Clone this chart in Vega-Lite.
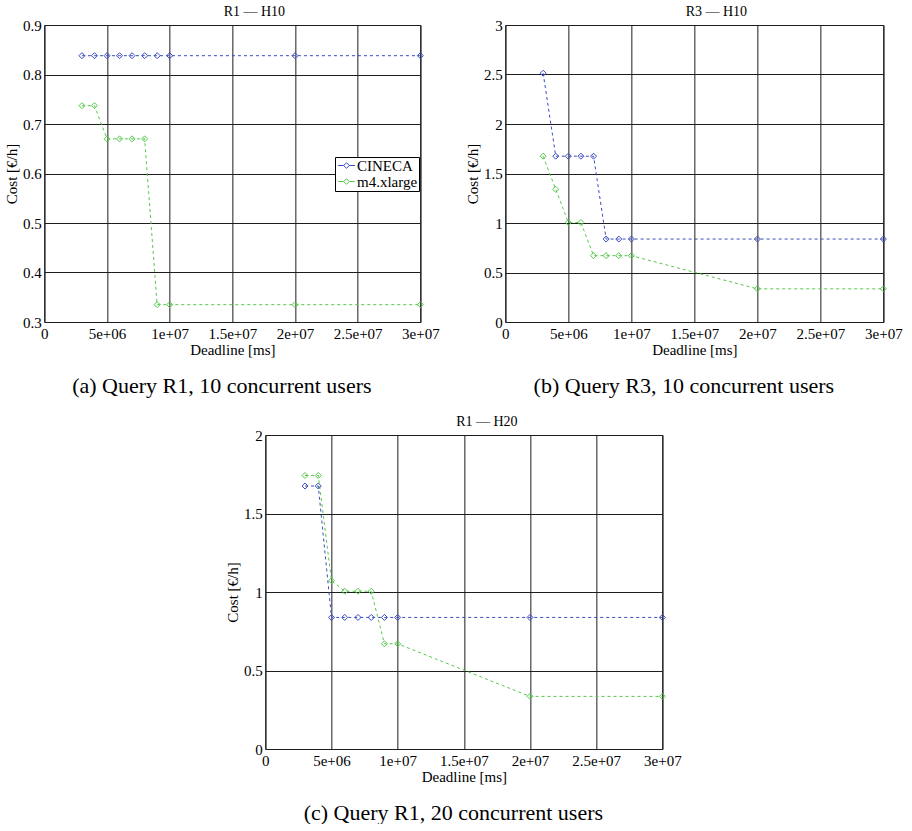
{
  "$schema": "https://vega.github.io/schema/vega-lite/v6.json",
  "padding": {"left": 4, "top": 4, "right": 0, "bottom": 0},
  "background": "white",
  "datasets": {
    "a": [
      {"series": "CINECA", "deadline": 3000000, "cost": 0.838},
      {"series": "CINECA", "deadline": 4000000, "cost": 0.838},
      {"series": "CINECA", "deadline": 5000000, "cost": 0.838},
      {"series": "CINECA", "deadline": 6000000, "cost": 0.838},
      {"series": "CINECA", "deadline": 7000000, "cost": 0.838},
      {"series": "CINECA", "deadline": 8000000, "cost": 0.838},
      {"series": "CINECA", "deadline": 9000000, "cost": 0.838},
      {"series": "CINECA", "deadline": 10000000, "cost": 0.838},
      {"series": "CINECA", "deadline": 20000000, "cost": 0.838},
      {"series": "CINECA", "deadline": 30000000, "cost": 0.838},
      {"series": "m4.xlarge", "deadline": 3000000, "cost": 0.737},
      {"series": "m4.xlarge", "deadline": 4000000, "cost": 0.737},
      {"series": "m4.xlarge", "deadline": 5000000, "cost": 0.67},
      {"series": "m4.xlarge", "deadline": 6000000, "cost": 0.67},
      {"series": "m4.xlarge", "deadline": 7000000, "cost": 0.67},
      {"series": "m4.xlarge", "deadline": 8000000, "cost": 0.67},
      {"series": "m4.xlarge", "deadline": 9000000, "cost": 0.335},
      {"series": "m4.xlarge", "deadline": 10000000, "cost": 0.335},
      {"series": "m4.xlarge", "deadline": 20000000, "cost": 0.335},
      {"series": "m4.xlarge", "deadline": 30000000, "cost": 0.335}
    ],
    "b": [
      {"series": "CINECA", "deadline": 3000000, "cost": 2.513},
      {"series": "CINECA", "deadline": 4000000, "cost": 1.675},
      {"series": "CINECA", "deadline": 5000000, "cost": 1.675},
      {"series": "CINECA", "deadline": 6000000, "cost": 1.675},
      {"series": "CINECA", "deadline": 7000000, "cost": 1.675},
      {"series": "CINECA", "deadline": 8000000, "cost": 0.838},
      {"series": "CINECA", "deadline": 9000000, "cost": 0.838},
      {"series": "CINECA", "deadline": 10000000, "cost": 0.838},
      {"series": "CINECA", "deadline": 20000000, "cost": 0.838},
      {"series": "CINECA", "deadline": 30000000, "cost": 0.838},
      {"series": "m4.xlarge", "deadline": 3000000, "cost": 1.675},
      {"series": "m4.xlarge", "deadline": 4000000, "cost": 1.34},
      {"series": "m4.xlarge", "deadline": 5000000, "cost": 1.005},
      {"series": "m4.xlarge", "deadline": 6000000, "cost": 1.005},
      {"series": "m4.xlarge", "deadline": 7000000, "cost": 0.67},
      {"series": "m4.xlarge", "deadline": 8000000, "cost": 0.67},
      {"series": "m4.xlarge", "deadline": 9000000, "cost": 0.67},
      {"series": "m4.xlarge", "deadline": 10000000, "cost": 0.67},
      {"series": "m4.xlarge", "deadline": 20000000, "cost": 0.335},
      {"series": "m4.xlarge", "deadline": 30000000, "cost": 0.335}
    ],
    "c": [
      {"series": "CINECA", "deadline": 3000000, "cost": 1.675},
      {"series": "CINECA", "deadline": 4000000, "cost": 1.675},
      {"series": "CINECA", "deadline": 5000000, "cost": 0.838},
      {"series": "CINECA", "deadline": 6000000, "cost": 0.838},
      {"series": "CINECA", "deadline": 7000000, "cost": 0.838},
      {"series": "CINECA", "deadline": 8000000, "cost": 0.838},
      {"series": "CINECA", "deadline": 9000000, "cost": 0.838},
      {"series": "CINECA", "deadline": 10000000, "cost": 0.838},
      {"series": "CINECA", "deadline": 20000000, "cost": 0.838},
      {"series": "CINECA", "deadline": 30000000, "cost": 0.838},
      {"series": "m4.xlarge", "deadline": 3000000, "cost": 1.742},
      {"series": "m4.xlarge", "deadline": 4000000, "cost": 1.742},
      {"series": "m4.xlarge", "deadline": 5000000, "cost": 1.072},
      {"series": "m4.xlarge", "deadline": 6000000, "cost": 1.005},
      {"series": "m4.xlarge", "deadline": 7000000, "cost": 1.005},
      {"series": "m4.xlarge", "deadline": 8000000, "cost": 1.005},
      {"series": "m4.xlarge", "deadline": 9000000, "cost": 0.67},
      {"series": "m4.xlarge", "deadline": 10000000, "cost": 0.67},
      {"series": "m4.xlarge", "deadline": 20000000, "cost": 0.335},
      {"series": "m4.xlarge", "deadline": 30000000, "cost": 0.335}
    ]
  },
  "config": {
    "font": "Liberation Serif",
    "view": {"stroke": "black", "strokeWidth": 1},
    "style": {
      "guide-label": {"font": "Liberation Serif", "fontSize": 15, "fill": "black"},
      "guide-title": {"font": "Liberation Serif", "fontSize": 15, "fontWeight": "normal", "fill": "black"},
      "group-title": {"font": "Liberation Serif", "fontSize": 14, "fontWeight": "normal", "fill": "black"}
    },
    "axis": {
      "labelFont": "Liberation Serif", "labelFontSize": 15, "labelColor": "black",
      "titleFont": "Liberation Serif", "titleFontSize": 15, "titleFontWeight": "normal", "titleColor": "black",
      "grid": true, "gridColor": "#1e1e1e", "gridWidth": 1, "gridOpacity": 1,
      "ticks": false, "domain": false, "labelFlush": false, "labelOverlap": false
    },
    "axisX": {"labelPadding": 4, "titlePadding": 1},
    "axisY": {"labelPadding": 3, "titlePadding": 3},
    "title": {"font": "Liberation Serif", "fontSize": 14, "fontWeight": "normal", "color": "black"},
    "legend": {
      "strokeColor": "black", "fillColor": "white", "padding": 1, "cornerRadius": 0,
      "labelFont": "Liberation Serif", "labelFontSize": 15, "labelColor": "black",
      "symbolType": "M-1.2,0L-0.4,0M0.4,0L1.2,0M0,-0.4L0.4,0L0,0.4L-0.4,0Z",
      "symbolSize": 196, "symbolStrokeWidth": 1, "symbolFillColor": "transparent",
      "rowPadding": 0, "labelOffset": 3, "symbolOffset": 3
    }
  },
  "vconcat": [
    {
      "hconcat": [
        {
          "title": {"text": "(a) Query R1, 10 concurrent users", "orient": "bottom", "fontSize": 22, "offset": 18, "anchor": "middle", "frame": "bounds"},
          "vconcat": [
            {
              "width": 376, "height": 297,
              "title": {"text": "R1 — H10", "dx": 22, "dy": 1, "offset": 0},
              "data": {"name": "a"},
              "encoding": {
                "x": {"field": "deadline", "type": "quantitative", "scale": {"domain": [0, 30000000], "nice": false},
                  "axis": {"values": [0, 5000000, 10000000, 15000000, 20000000, 25000000, 30000000], "title": "Deadline [ms]",
                    "labelFont": "Liberation Serif", "labelFontSize": 15, "titleFont": "Liberation Serif", "titleFontSize": 15,
                    "labelExpr": "datum.value == 0 ? '0' : replace(format(datum.value, '~e'), 'e+', 'e+0')"}},
                "y": {"field": "cost", "type": "quantitative", "scale": {"domain": [0.3, 0.9], "nice": false, "zero": false},
                  "axis": {"values": [0.3, 0.4, 0.5, 0.6, 0.7, 0.8, 0.9], "format": "~g", "title": "Cost [€/h]",
                    "labelFont": "Liberation Serif", "labelFontSize": 15, "titleFont": "Liberation Serif", "titleFontSize": 15}},
                "color": {"field": "series", "type": "nominal",
                  "scale": {"domain": ["CINECA", "m4.xlarge"], "range": ["#3a4bbf", "#55c94a"]},
                  "legend": {"title": null, "orient": "none", "legendX": 291, "legendY": 132, "labelFont": "Liberation Serif", "labelFontSize": 15}}
              },
              "layer": [
                {"mark": {"type": "line", "strokeDash": [3, 3], "strokeWidth": 1}},
                {"mark": {"type": "point", "shape": "diamond", "filled": false, "size": 36, "strokeWidth": 1, "opacity": 1}}
              ]
            }
          ]
        },
        {
          "title": {"text": "(b) Query R3, 10 concurrent users", "orient": "bottom", "fontSize": 22, "offset": 18, "anchor": "middle", "frame": "bounds"},
          "vconcat": [
            {
              "width": 378, "height": 297,
              "title": {"text": "R3 — H10", "dx": 22, "dy": 1, "offset": 0},
              "data": {"name": "b"},
              "encoding": {
                "x": {"field": "deadline", "type": "quantitative", "scale": {"domain": [0, 30000000], "nice": false},
                  "axis": {"values": [0, 5000000, 10000000, 15000000, 20000000, 25000000, 30000000], "title": "Deadline [ms]",
                    "labelFont": "Liberation Serif", "labelFontSize": 15, "titleFont": "Liberation Serif", "titleFontSize": 15,
                    "labelExpr": "datum.value == 0 ? '0' : replace(format(datum.value, '~e'), 'e+', 'e+0')"}},
                "y": {"field": "cost", "type": "quantitative", "scale": {"domain": [0, 3], "nice": false},
                  "axis": {"values": [0, 0.5, 1, 1.5, 2, 2.5, 3], "format": "~g", "title": "Cost [€/h]",
                    "labelFont": "Liberation Serif", "labelFontSize": 15, "titleFont": "Liberation Serif", "titleFontSize": 15}},
                "color": {"field": "series", "type": "nominal",
                  "scale": {"domain": ["CINECA", "m4.xlarge"], "range": ["#3a4bbf", "#55c94a"]},
                  "legend": {"title": null, "orient": "none", "legendX": 292, "legendY": 132, "labelFont": "Liberation Serif", "labelFontSize": 15}}
              },
              "layer": [
                {"mark": {"type": "line", "strokeDash": [3, 3], "strokeWidth": 1}},
                {"mark": {"type": "point", "shape": "diamond", "filled": false, "size": 36, "strokeWidth": 1, "opacity": 1}}
              ]
            }
          ]
        }
      ],
      "spacing": 24
    },
    {
      "title": {"text": "(c) Query R1, 20 concurrent users", "orient": "bottom", "fontSize": 22, "offset": 18, "anchor": "middle", "frame": "bounds"},
      "vconcat": [
        {
          "width": 397, "height": 314,
          "title": {"text": "R1 — H20", "dx": 23, "dy": 1, "offset": 0},
          "data": {"name": "c"},
          "encoding": {
            "x": {"field": "deadline", "type": "quantitative", "scale": {"domain": [0, 30000000], "nice": false},
              "axis": {"values": [0, 5000000, 10000000, 15000000, 20000000, 25000000, 30000000], "title": "Deadline [ms]",
                "labelFont": "Liberation Serif", "labelFontSize": 15, "titleFont": "Liberation Serif", "titleFontSize": 15,
                "labelExpr": "datum.value == 0 ? '0' : replace(format(datum.value, '~e'), 'e+', 'e+0')"}},
            "y": {"field": "cost", "type": "quantitative", "scale": {"domain": [0, 2], "nice": false},
              "axis": {"values": [0, 0.5, 1, 1.5, 2], "format": "~g", "title": "Cost [€/h]",
                "labelFont": "Liberation Serif", "labelFontSize": 15, "titleFont": "Liberation Serif", "titleFontSize": 15}},
            "color": {"field": "series", "type": "nominal",
              "scale": {"domain": ["CINECA", "m4.xlarge"], "range": ["#3a4bbf", "#55c94a"]},
              "legend": {"title": null, "orient": "none", "legendX": 307, "legendY": 140, "labelFont": "Liberation Serif", "labelFontSize": 15}}
          },
          "layer": [
            {"mark": {"type": "line", "strokeDash": [3, 3], "strokeWidth": 1}},
            {"mark": {"type": "point", "shape": "diamond", "filled": false, "size": 36, "strokeWidth": 1, "opacity": 1}}
          ]
        }
      ]
    }
  ],
  "spacing": 17,
  "center": true
}
